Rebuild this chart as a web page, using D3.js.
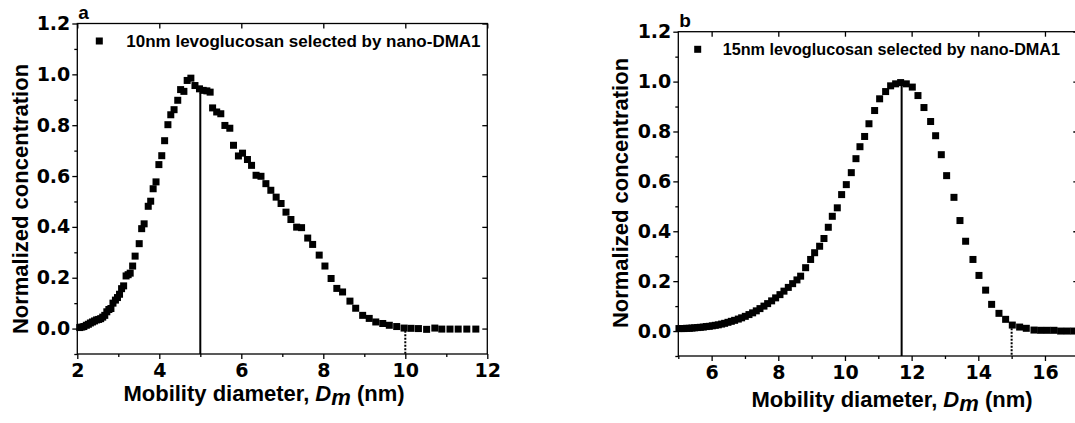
<!DOCTYPE html>
<html><head><meta charset="utf-8">
<script src="https://cdn.jsdelivr.net/npm/d3@7"></script>
<style>body{margin:0;background:#fff}svg{display:block}</style>
</head><body>
<svg id="c" width="1075" height="423"></svg>
<script>
// ---- data ----
const xA = [2.06,2.11,2.16,2.22,2.27,2.32,2.37,2.42,2.47,2.52,2.57,2.62,2.67,2.72,2.77,2.82,2.87,2.93,2.98,3.03,3.08,3.13,3.19,3.24,3.29,3.35,3.41,3.51,3.57,3.63,3.73,3.79,3.85,3.92,3.99,4.06,4.13,4.21,4.28,4.36,4.45,4.52,4.60,4.68,4.77,4.87,4.98,5.07,5.16,5.24,5.30,5.40,5.50,5.60,5.72,5.81,5.93,6.03,6.15,6.25,6.36,6.48,6.60,6.72,6.85,6.97,7.09,7.21,7.35,7.47,7.62,7.74,7.90,8.04,8.19,8.33,8.47,8.65,8.79,8.96,9.12,9.28,9.45,9.61,9.79,9.97,10.14,10.32,10.52,10.72,10.89,11.09,11.29,11.50,11.72];
const yA = [0.004,0.006,0.008,0.013,0.017,0.022,0.026,0.030,0.034,0.036,0.039,0.045,0.052,0.066,0.075,0.079,0.100,0.112,0.122,0.135,0.157,0.168,0.207,0.212,0.218,0.246,0.285,0.334,0.393,0.412,0.481,0.501,0.550,0.577,0.645,0.680,0.739,0.802,0.841,0.861,0.898,0.940,0.933,0.976,0.985,0.956,0.943,0.937,0.935,0.930,0.868,0.852,0.845,0.799,0.788,0.721,0.679,0.690,0.665,0.642,0.603,0.599,0.570,0.544,0.517,0.492,0.458,0.429,0.399,0.397,0.356,0.331,0.289,0.246,0.197,0.158,0.144,0.108,0.080,0.052,0.040,0.026,0.020,0.013,0.008,0.002,0.001,0.000,-0.003,0.002,-0.002,-0.002,-0.002,-0.002,-0.002];
const xB = [5.02,5.09,5.17,5.25,5.33,5.41,5.49,5.58,5.66,5.75,5.84,5.93,6.02,6.11,6.20,6.30,6.39,6.49,6.59,6.69,6.80,6.90,7.01,7.12,7.23,7.34,7.45,7.57,7.68,7.80,7.92,8.05,8.17,8.30,8.43,8.56,8.67,8.82,8.97,9.09,9.24,9.37,9.50,9.62,9.77,9.90,10.04,10.19,10.33,10.45,10.59,10.72,10.89,11.04,11.22,11.37,11.52,11.67,11.84,12.02,12.19,12.37,12.57,12.72,12.89,13.05,13.27,13.45,13.62,13.84,14.02,14.22,14.40,14.62,14.82,15.02,15.24,15.44,15.67,15.87,16.07,16.27,16.47,16.67,16.87];
const yB = [0.010,0.010,0.010,0.011,0.011,0.012,0.013,0.014,0.015,0.016,0.018,0.019,0.021,0.023,0.025,0.028,0.031,0.035,0.039,0.043,0.048,0.053,0.059,0.066,0.073,0.081,0.090,0.100,0.110,0.121,0.133,0.146,0.160,0.175,0.190,0.205,0.220,0.254,0.287,0.314,0.340,0.371,0.416,0.460,0.494,0.547,0.587,0.635,0.691,0.739,0.780,0.831,0.884,0.931,0.960,0.983,0.991,0.996,0.991,0.978,0.944,0.896,0.840,0.783,0.707,0.623,0.536,0.443,0.360,0.287,0.223,0.164,0.107,0.071,0.047,0.024,0.016,0.011,0.004,0.003,0.003,0.003,0.000,0.000,0.000];
const legendA = "10nm levoglucosan selected by nano-DMA1";
const legendB = "15nm levoglucosan selected by nano-DMA1";
const yTicks = [0.0,0.2,0.4,0.6,0.8,1.0,1.2];
const yMinor = [-0.1,0.1,0.3,0.5,0.7,0.9,1.1];
const xTicksA = [2,4,6,8,10,12], xMinorA = [3,5,7,9,11];
const xTicksB = [6,8,10,12,14,16], xMinorB = [5,7,9,11,13,15,17];
const peakA = {x:5, y:0.93}, cutA = {x:10, y:0.005};
const peakB = {x:11.7, y:0.99}, cutB = {x:15, y:0.025};

const svg = d3.select("#c");
const TF = "DejaVu Sans, sans-serif";
const LF = "Liberation Sans, Arial, sans-serif";

function panel(o){
  const x = d3.scaleLinear().domain(o.xd).range([o.l, o.r]);
  const y = d3.scaleLinear().domain([-0.1,1.2]).range([o.b, o.t]);
  const g = svg.append("g");
  // frame
  g.append("rect").attr("x",o.l).attr("y",o.t).attr("width",o.r-o.l).attr("height",o.b-o.t)
    .attr("fill","none").attr("stroke","#000").attr("stroke-width",1.3);
  // bottom axis
  const bx = g.append("g").attr("transform",`translate(0,${o.b})`)
    .call(d3.axisBottom(x).tickValues(o.xt).tickSize(5).tickPadding(5).tickFormat(d3.format("d")));
  bx.select(".domain").remove();
  bx.selectAll("line").attr("stroke-width",1.3);
  bx.selectAll("text").attr("font-family",TF).attr("font-weight","bold").attr("font-size",19).attr("fill","#000");
  const bm = g.append("g").attr("transform",`translate(0,${o.b})`)
    .call(d3.axisBottom(x).tickValues(o.xm).tickSize(3).tickFormat(""));
  bm.select(".domain").remove(); bm.selectAll("line").attr("stroke-width",1.3);
  // top axis (inward)
  const tx = g.append("g").attr("transform",`translate(0,${o.t})`)
    .call(d3.axisTop(x).tickValues(o.xt).tickSize(-5).tickFormat(""));
  tx.select(".domain").remove(); tx.selectAll("line").attr("stroke-width",1.3);
  // left axis
  const ly = g.append("g").attr("transform",`translate(${o.l},0)`)
    .call(d3.axisLeft(y).tickValues(yTicks).tickSize(5).tickPadding(2).tickFormat(d3.format(".1f")));
  ly.select(".domain").remove(); ly.selectAll("line").attr("stroke-width",1.3);
  ly.selectAll("text").attr("font-family",TF).attr("font-weight","bold").attr("font-size",19).attr("fill","#000");
  const lm = g.append("g").attr("transform",`translate(${o.l},0)`)
    .call(d3.axisLeft(y).tickValues(yMinor).tickSize(3).tickFormat(""));
  lm.select(".domain").remove(); lm.selectAll("line").attr("stroke-width",1.3);
  // right axis inward
  const ry = g.append("g").attr("transform",`translate(${o.r},0)`)
    .call(d3.axisRight(y).tickValues(yTicks).tickSize(-5).tickFormat(""));
  ry.select(".domain").remove(); ry.selectAll("line").attr("stroke-width",1.3);
  // vertical markers
  g.append("line").attr("x1",x(o.peak.x)).attr("x2",x(o.peak.x)).attr("y1",y(o.peak.y)).attr("y2",o.b)
    .attr("stroke","#000").attr("stroke-width",2);
  g.append("line").attr("x1",x(o.cut.x)).attr("x2",x(o.cut.x)).attr("y1",y(o.cut.y)).attr("y2",o.b)
    .attr("stroke","#000").attr("stroke-width",2).attr("stroke-dasharray","2,1.5");
  // points
  const s = 7;
  g.selectAll("rect.pt").data(o.xs.map((v,i)=>[v,o.ys[i]])).join("rect").attr("class","pt")
    .attr("x",d=>x(d[0])-s/2).attr("y",d=>y(d[1])-s/2).attr("width",s).attr("height",s).attr("fill","#000");
  // legend
  g.append("rect").attr("x",o.lgx-3.5).attr("y",o.lgy-3.5).attr("width",7).attr("height",7).attr("fill","#000");
  g.append("text").attr("x",o.lgx+o.lgdx).attr("y",o.lgy+6).attr("font-family",LF).attr("font-weight","bold")
    .attr("font-size",o.lgfs).text(o.legend);
  // panel letter
  g.append("text").attr("x",o.l+1).attr("y",o.t-5).attr("font-family",LF).attr("font-weight","bold")
    .attr("font-size",19).text(o.letter);
  // y title
  g.append("text").attr("transform",`translate(${o.ytx},${o.yty}) rotate(-90)`).attr("text-anchor","middle")
    .attr("font-family",LF).attr("font-weight","bold").attr("font-size",22).text("Normalized concentration");
  // x title
  const t = g.append("text").attr("x",o.xtx).attr("y",o.xty).attr("text-anchor","middle")
    .attr("font-family",LF).attr("font-weight","bold").attr("font-size",22);
  t.append("tspan").text("Mobility diameter, ");
  t.append("tspan").attr("font-style","italic").text("D");
  t.append("tspan").attr("font-style","italic").attr("dy",4).text("m");
  t.append("tspan").attr("dy",-4).text(" (nm)");
}

panel({xd:[2,12], l:77.3, r:487.3, t:23.5, b:354, xt:xTicksA, xm:xMinorA, xs:xA, ys:yA,
  peak:peakA, cut:cutA, legend:legendA, lgx:99.3, lgy:41, lgdx:27, lgfs:17, letter:"a", ytx:28, yty:199, xtx:264, xty:401});
panel({xd:[5,17], l:678.3, r:1078.3, t:31.7, b:356, xt:xTicksB, xm:xMinorB, xs:xB, ys:yB,
  peak:peakB, cut:cutB, legend:legendB, lgx:697.7, lgy:49.3, lgdx:25, lgfs:16.2, letter:"b", ytx:628, yty:193, xtx:892, xty:407});
</script>
</body></html>
